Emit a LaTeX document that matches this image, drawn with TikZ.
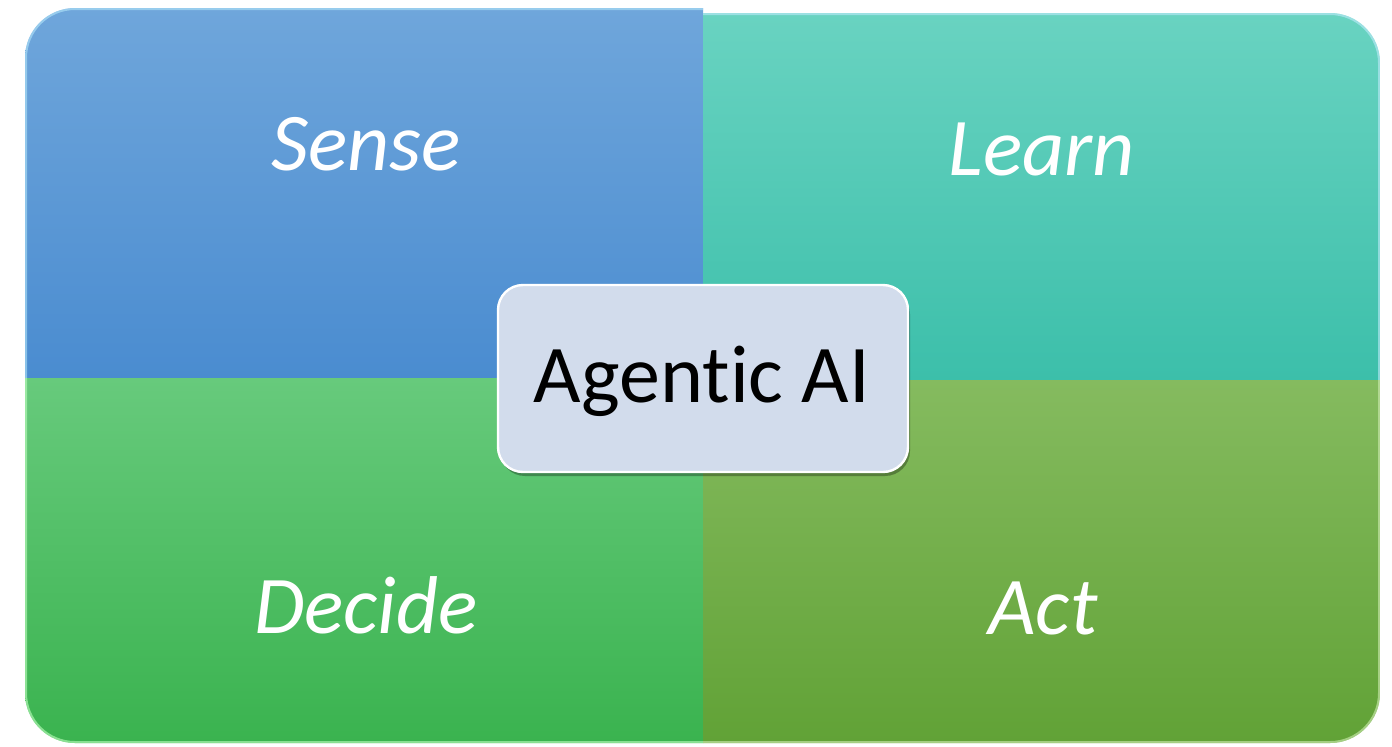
\documentclass[tikz,border=0pt]{standalone}
\usepackage{fontspec}
\setmainfont{Carlito}[Ligatures={NoCommon}]
\usetikzlibrary{shadows}
\definecolor{senseTop}{HTML}{6FA6DB}
\definecolor{senseBot}{HTML}{4A8CD0}
\definecolor{learnTop}{HTML}{69D3C1}
\definecolor{learnBot}{HTML}{3CBFAA}
\definecolor{decideTop}{HTML}{67CA7C}
\definecolor{decideBot}{HTML}{3AB34F}
\definecolor{actTop}{HTML}{85BB5F}
\definecolor{actBot}{HTML}{61A236}
\definecolor{hubFill}{HTML}{D2DCEC}
\tikzset{
  quadlabel/.style={text=white, font=\fontsize{41}{48}\selectfont\itshape, anchor=base},
  hubbox/.style={rounded corners=12.5pt, fill=hubFill, draw=white, line width=1.2pt,
    drop shadow={shadow xshift=1pt, shadow yshift=-2pt, fill=black, opacity=0.3}},
  rim/.style={line width=2pt, draw opacity=0.6, rounded corners=25pt}
}
\begin{document}
\begin{tikzpicture}[x=0.5pt, y=-0.5pt]
\useasboundingbox (0,0) rectangle (1392,746);
\fill[white] (0,0) rectangle (1392,746);

% four quadrants: each is clipped from a large rounded rectangle,
% so only its outer corner keeps the rounding
\begin{scope}
  \clip (25,8) rectangle (703,378);
  \clip[rounded corners=25pt] (25,8) rectangle (1200,700);
  \shade[top color=senseTop, bottom color=senseBot] (25,8) rectangle (703,378);
  \draw[rim, draw=cyan!30] (25,8) rectangle (1200,700);
\end{scope}
\begin{scope}
  \clip (703,13) rectangle (1380,380);
  \clip[rounded corners=25pt] (200,13) rectangle (1380,700);
  \shade[top color=learnTop, bottom color=learnBot] (703,13) rectangle (1380,380);
  \draw[rim, draw=cyan!25] (200,13) rectangle (1380,700);
\end{scope}
\begin{scope}
  \clip (25,378) rectangle (703,743);
  \clip[rounded corners=25pt] (25,50) rectangle (1200,743);
  \shade[top color=decideTop, bottom color=decideBot] (25,378) rectangle (703,743);
  \draw[rim, draw=green!25] (25,50) rectangle (1200,743);
\end{scope}
\begin{scope}
  \clip (703,380) rectangle (1380,743);
  \clip[rounded corners=25pt] (200,50) rectangle (1380,743);
  \shade[top color=actTop, bottom color=actBot] (703,380) rectangle (1380,743);
  \draw[rim, draw=yellow!40!green!30] (200,50) rectangle (1380,743);
\end{scope}

% labels
\node[quadlabel] (sense)  at (366,170) {Sense};
\node[quadlabel] (learn)  at (1042,175) {Learn};
\node[quadlabel] (decide) at (366,633) {Decide};
\node[quadlabel] (act)    at (1043,634) {Act};

% central hub
\path[hubbox] (498,285) rectangle (908,472);
\node[text=black, font=\fontsize{41}{48}\selectfont, anchor=base] (hub) at (702,402) {Agentic AI};
\end{tikzpicture}
\end{document}
